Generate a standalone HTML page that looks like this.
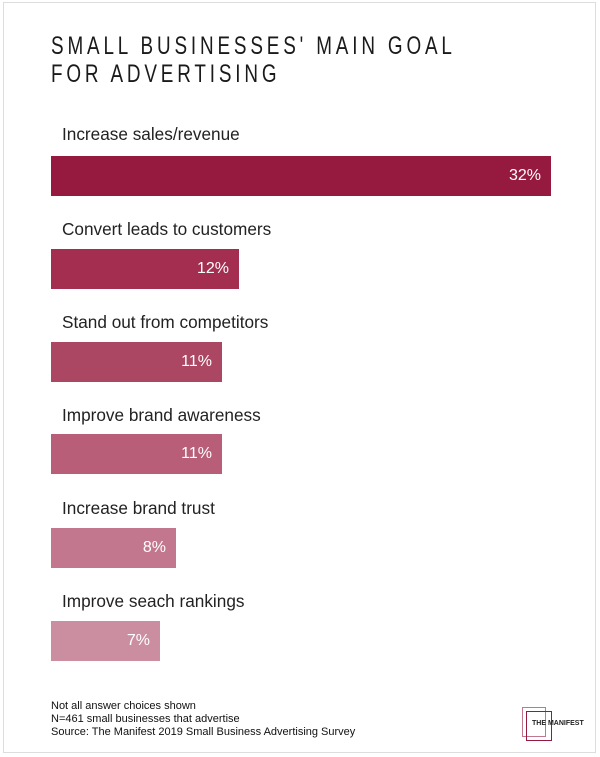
<!DOCTYPE html>
<html><head><style>
body{margin:0;width:600px;height:757px;background:#fff;position:relative;font-family:"Liberation Sans",sans-serif;overflow:hidden}
.frame{position:absolute;left:3px;top:2px;width:593px;height:751px;border:1px solid #ddd;box-sizing:border-box}
.t{position:absolute;left:51px;font-size:25px;letter-spacing:5.1px;color:#1a1a1a;transform-origin:0 0;transform:scaleX(0.755);white-space:nowrap;line-height:28px}
.l{position:absolute;left:62px;font-size:17.2px;color:#222;line-height:20px}
.b{position:absolute;left:51px;height:40px;color:#fff;font-size:16px;line-height:40px;text-align:right;box-sizing:border-box;padding-right:10px}
.f{position:absolute;left:51px;font-size:11px;color:#111;line-height:13px}
</style></head><body>
<div class="frame"></div>
<div class="t" style="top:32px">SMALL BUSINESSES' MAIN GOAL</div>
<div class="t" style="top:60px">FOR ADVERTISING</div>

<div class="l" style="top:124px">Increase sales/revenue</div>
<div class="b" style="top:156px;width:500px;background:#961a40">32%</div>
<div class="l" style="top:219px">Convert leads to customers</div>
<div class="b" style="top:249px;width:188px;background:#a32e50">12%</div>
<div class="l" style="top:312px">Stand out from competitors</div>
<div class="b" style="top:342px;width:171px;background:#ac4763">11%</div>
<div class="l" style="top:405px">Improve brand awareness</div>
<div class="b" style="top:434px;width:171px;background:#b85e78">11%</div>
<div class="l" style="top:498px">Increase brand trust</div>
<div class="b" style="top:528px;width:125px;background:#c2778e">8%</div>
<div class="l" style="top:591px">Improve seach rankings</div>
<div class="b" style="top:621px;width:109px;background:#cb8ea1">7%</div>

<div class="f" style="top:700px">Not all answer choices shown</div>
<div class="f" style="top:713px">N=461 small businesses that advertise</div>
<div class="f" style="top:726px">Source: The Manifest 2019 Small Business Advertising Survey</div>

<div style="position:absolute;left:522px;top:707px;width:24px;height:30px;border:1px solid #c2778e;box-sizing:border-box"></div>
<div style="position:absolute;left:526px;top:711px;width:26px;height:30px;border:1.5px solid #961a40;box-sizing:border-box"></div>
<div style="position:absolute;left:532px;top:720px;font-size:7px;font-weight:bold;color:#222;white-space:nowrap">THE MANIFEST</div>
</body></html>
